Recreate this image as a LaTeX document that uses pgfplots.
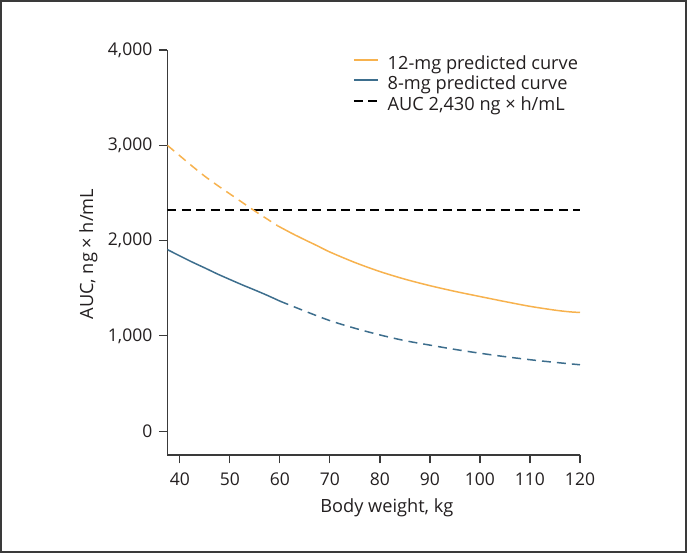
\documentclass[border=0pt]{standalone}
\usepackage{fontspec}
\setmainfont{Open Sans}
\usepackage{pgfplots}
\pgfplotsset{compat=1.18}
\definecolor{orangec}{HTML}{F7B24E}
\definecolor{bluec}{HTML}{3D6E8D}
\definecolor{txt}{HTML}{231F20}
\definecolor{axc}{HTML}{3A3A3A}
\begin{document}
\begin{tikzpicture}
\useasboundingbox (0,0) rectangle (687bp,553bp);
\begin{axis}[
  at={(167.3bp,98bp)}, anchor=south west,
  scale only axis, width=412.7bp, height=405bp,
  xmin=37.5, xmax=120, ymin=-250, ymax=4000,
  axis lines*=left,
  axis line style={-, draw=axc, line width=1.2bp},
  xtick pos=bottom, ytick pos=left,
  xtick align=outside, ytick align=outside,
  major tick length=8.5bp,
  major tick style={draw=axc, line width=1.2bp},
  xticklabel shift=6bp, yticklabel shift=3bp,
  xtick={40,50,...,120}, ytick={0,1000,2000,3000,4000},
  /pgf/number format/.cd, 1000 sep={,}, assume math mode=true, /pgfplots/.cd,
  tick label style={font=\fontsize{17.5bp}{20bp}\selectfont, text=txt},
  label style={font=\fontsize{18.2bp}{21bp}\selectfont, text=txt},
  xlabel={Body weight, kg},
  ylabel={AUC, ng × h/mL},
  xlabel style={at={(axis description cs:0.532,-0.143)}, anchor=base},
  ylabel style={at={(axis description cs:-0.18,0.496)}, anchor=base, rotate=0},
  legend style={at={(axis description cs:0.45,0.985)}, anchor=north west,
    draw=none, fill=none, inner sep=0pt, outer sep=0pt,
    font=\fontsize{18.2bp}{21bp}\selectfont, text=txt,
    row sep=3.5bp, column sep=9bp,
    nodes={inner sep=0pt, text height=13bp, text depth=4bp}},
  legend cell align=left,
  legend image code/.code={\draw[#1, line width=1.7bp] (0bp,4.8bp) -- (24bp,4.8bp);},
]
\addplot[orangec, line width=1.5bp, smooth] coordinates {
(59.5,2157) (62.5,2073) (65,2008) (67.5,1945) (70,1880) (75,1770) (80,1675) (85,1595)
(90,1527) (95,1467) (100,1413) (105,1360) (110,1310) (115,1270) (118,1252) (120,1246)};
\addlegendentry{12-mg predicted curve}
\addplot[bluec, line width=1.5bp, smooth] coordinates {
(37.5,1906) (40,1839) (42.5,1774) (45,1713) (47.5,1650) (50,1592) (52.5,1535)
(55,1481) (57.5,1425) (60,1365)};
\addlegendentry{8-mg predicted curve}
\addplot[black, line width=1.6bp, dash pattern=on 9bp off 5.5bp] coordinates {
(37.5,2324) (120,2324)};
\addlegendentry{AUC 2,430 ng × h/mL}
\addplot[orangec, line width=1.5bp, smooth, dash pattern=on 9bp off 6bp, forget plot] coordinates {
(37.5,3000) (40,2890) (42.5,2780) (45,2675) (47.5,2580) (50,2490) (52.5,2400)
(55,2310) (57.5,2225) (59.5,2157)};
\addplot[bluec, line width=1.5bp, smooth, dash pattern=on 9bp off 6bp, forget plot] coordinates {
(60,1365) (65,1260) (70,1160) (75,1080) (80,1010) (85,950) (90,903) (95,858)
(100,818) (105,782) (110,750) (115,722) (120,697)};
\end{axis}
\draw[axc, line width=1.6bp] (0.8bp,0.8bp) rectangle (686.2bp,552.2bp);
\end{tikzpicture}
\end{document}
